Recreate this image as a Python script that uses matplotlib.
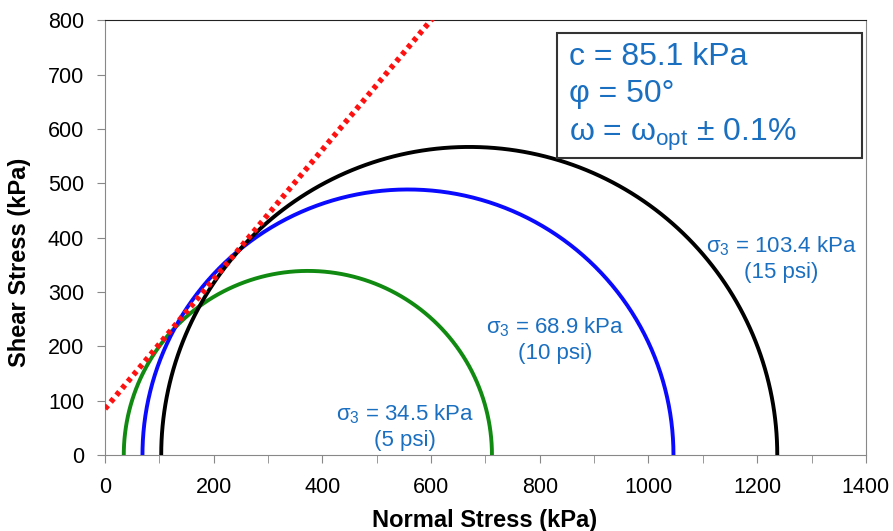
import matplotlib.pyplot as plt
import numpy as np
from matplotlib.patches import Rectangle

plt.rcParams['font.family'] = ['Liberation Sans', 'DejaVu Sans']
plt.rcParams['mathtext.fontset'] = 'custom'
plt.rcParams['mathtext.rm'] = 'Liberation Sans'
plt.rcParams['mathtext.it'] = 'Liberation Sans'
plt.rcParams['mathtext.bf'] = 'Liberation Sans:bold'

# Mohr circles: minor / major principal stress (kPa)
sigma3 = [34.5, 68.9, 103.4]
sigma1 = [712.0, 1046.0, 1237.0]
colors = ['#118a11', '#0a0aff', '#000000']
labels = [r'$\sigma_3$ = 34.5 kPa' + '\n(5 psi)',
          r'$\sigma_3$ = 68.9 kPa' + '\n(10 psi)',
          r'$\sigma_3$ = 103.4 kPa' + '\n(15 psi)']
label_pos = [(552, 53), (828, 212), (1245, 362)]

# failure envelope
c = 85.1
phi = 50.0
env_x = [0, 1400]

txt_blue = '#1a6fc0'

fig = plt.figure(figsize=(8.93, 5.31), dpi=100)
ax = fig.add_axes([0.1176, 0.143, 0.852, 0.819])

theta = np.linspace(0, np.pi, 400)
for s3, s1, col in zip(sigma3, sigma1, colors):
    cen = (s1 + s3) / 2
    r = (s1 - s3) / 2
    ax.plot(cen + r * np.cos(theta), r * np.sin(theta), color=col, lw=2.8, zorder=3)

ex = np.array(env_x)
ax.plot(ex, c + ex * np.tan(np.radians(phi)), color='#ff1010', lw=4,
        linestyle=(0, (0.8, 0.8)), zorder=4)

for lab, (x, y) in zip(labels, label_pos):
    ax.text(x, y, lab, color=txt_blue, fontsize=16, ha='center', va='center',
            linespacing=1.25)

# parameter box
ax.add_patch(Rectangle((0.594, 0.683), 0.401, 0.287, transform=ax.transAxes,
                       facecolor='white', edgecolor='#333333', lw=1.5, zorder=5))
ax.text(0.610, 0.822,
        'c = 85.1 kPa\n' + 'φ = 50°' + '\n' + r'$\omega$ = $\omega_{opt}$ ± 0.1%',
        transform=ax.transAxes, ha='left', va='center', fontsize=23, color=txt_blue,
        linespacing=1.3, zorder=6)

ax.set_xlim(0, 1400)
ax.set_ylim(0, 800)
ax.set_xticks(np.arange(0, 1401, 200))
ax.set_xticks(np.arange(0, 1401, 100), minor=True)
ax.set_yticks(np.arange(0, 801, 100))
ax.tick_params(axis='both', which='both', direction='out', color='#888888',
               labelsize=15.5, length=6)
ax.tick_params(axis='x', pad=10)
ax.tick_params(axis='y', pad=9)
for s in ['left', 'bottom', 'right']:
    ax.spines[s].set_color('#888888')
ax.spines['top'].set_color('#222222')

fig.text(485 / 893, 1 - 520 / 531, 'Normal Stress (kPa)', fontsize=17,
         fontweight='bold', ha='center', va='center')
fig.text(20 / 893, 1 - 262 / 531, 'Shear Stress (kPa)', fontsize=17,
         fontweight='bold', ha='center', va='center', rotation=90)

fig.savefig('out.png', dpi=100)
